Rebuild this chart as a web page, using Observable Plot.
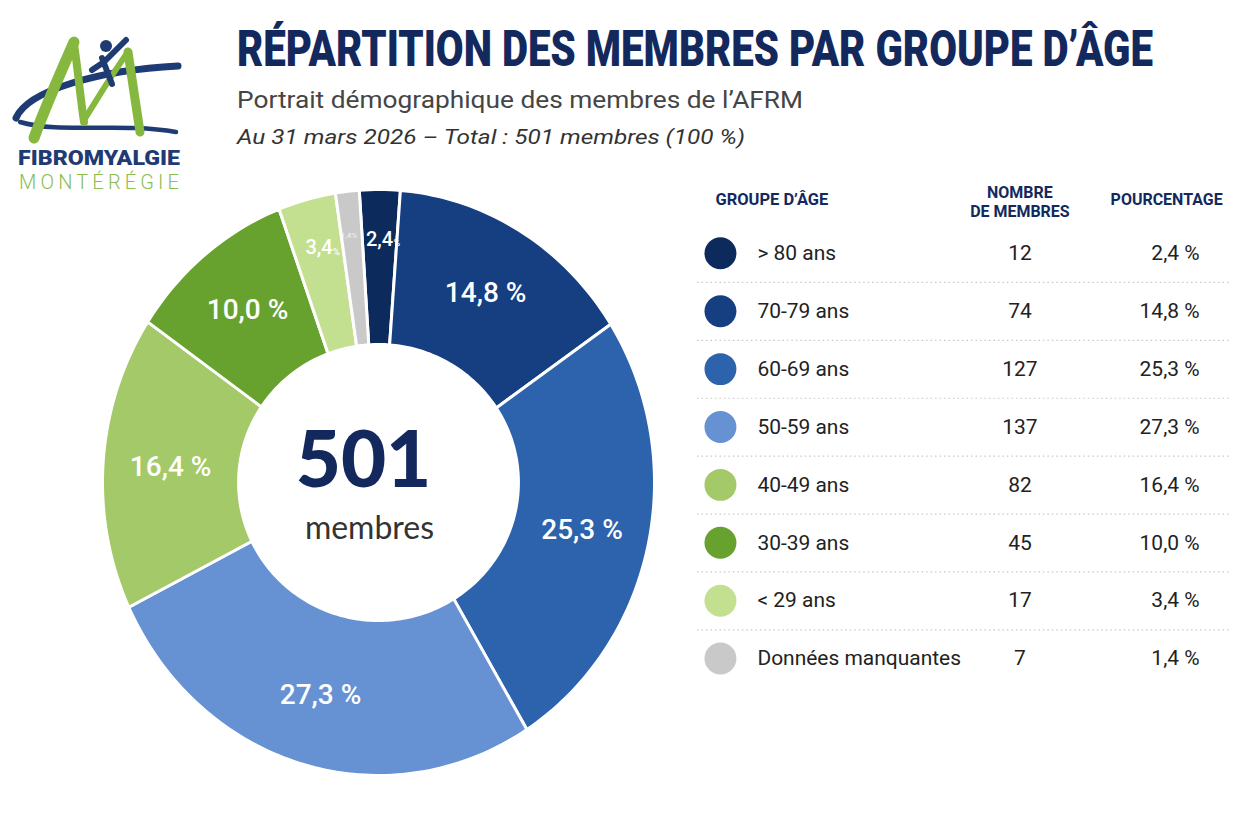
<!DOCTYPE html>
<html>
<head>
<meta charset="utf-8">
<script src="https://cdn.jsdelivr.net/npm/d3@7"></script>
<script src="https://cdn.jsdelivr.net/npm/@observablehq/plot@0.6"></script>
<style>
  html, body { margin: 0; padding: 0; background: #ffffff; }
  body { width: 1249px; height: 824px; position: relative; overflow: hidden; font-family: Roboto, "Noto Sans", sans-serif; }
  #logo, #header, #donut, #table { position: absolute; }
  #logo { left: 0; top: 0; }
  #header { left: 0; top: 0; }
  #donut { left: 78px; top: 167px; }
  #table { left: 690px; top: 150px; }
</style>
</head>
<body>
<svg id="logo" width="230" height="200" viewBox="0 0 230 200">
  <path d="M16 118 C 28 90, 100 70, 178 66" fill="none" stroke="#1f3b73" stroke-width="7" stroke-linecap="round"/>
  <path d="M20 122 C 60 134, 120 122, 176 132" fill="none" stroke="#1f3b73" stroke-width="4.5" stroke-linecap="round"/>
  <path d="M34 138 C 48 100, 62 70, 74 42" fill="none" stroke="#86b83f" stroke-width="11" stroke-linecap="round"/>
  <path d="M74 44 C 78 70, 80 95, 84 122" fill="none" stroke="#86b83f" stroke-width="8" stroke-linecap="round"/>
  <path d="M84 120 C 98 98, 112 74, 128 52" fill="none" stroke="#86b83f" stroke-width="6" stroke-linecap="round"/>
  <path d="M128 52 C 132 80, 136 105, 140 132" fill="none" stroke="#86b83f" stroke-width="9" stroke-linecap="round"/>
  <circle cx="106" cy="46" r="6" fill="#1f3b73"/>
  <path d="M102 58 L 112 84 M 104 62 L 126 40 M 104 62 L 92 70" fill="none" stroke="#1f3b73" stroke-width="6" stroke-linecap="round"/>
  <text x="18" y="165" font-family="Roboto" font-weight="900" font-size="21" fill="#1f3b73" textLength="162" lengthAdjust="spacingAndGlyphs">FIBROMYALGIE</text>
  <text x="19" y="189" font-family="Roboto" font-weight="300" font-size="20" fill="#8bbd4f" textLength="160" lengthAdjust="spacing">MONTÉRÉGIE</text>
</svg>
<svg id="header" width="1249" height="160">
  <text transform="translate(237,66) scale(0.8,1)" x="0" y="0" font-family="Roboto" font-weight="900" font-size="50" fill="#13295e" textLength="1145" lengthAdjust="spacingAndGlyphs">RÉPARTITION DES MEMBRES PAR GROUPE D’ÂGE</text>
  <text x="237" y="108" font-family="Roboto" font-weight="400" font-size="24" fill="#454545" textLength="566" lengthAdjust="spacingAndGlyphs">Portrait démographique des membres de l’AFRM</text>
  <text x="237" y="144" font-family="Roboto" font-style="italic" font-weight="400" font-size="21" fill="#333333" textLength="508" lengthAdjust="spacingAndGlyphs">Au 31 mars 2026 – Total : 501 membres (100 %)</text>
</svg>
<div id="donut"></div>
<div id="table"></div>
<script>
// ---- data ----
const groups = ["> 80 ans", "70-79 ans", "60-69 ans", "50-59 ans", "40-49 ans", "30-39 ans", "< 29 ans", "Données manquantes"];
const counts = [12, 74, 127, 137, 82, 45, 17, 7];
const percents = [2.4, 14.8, 25.3, 27.3, 16.4, 10.0, 3.4, 1.4];
const percentLabels = ["2,4 %", "14,8 %", "25,3 %", "27,3 %", "16,4 %", "10,0 %", "3,4 %", "1,4 %"];
const colors = ["#0c2a5b", "#163f82", "#2d62ad", "#6692d3", "#a4c969", "#68a22e", "#c3e091", "#c9c9c9"];
const headers = ["GROUPE D’ÂGE", "NOMBRE\nDE MEMBRES", "POURCENTAGE"];
const centerValue = "501";
const centerLabel = "membres";

// ---- donut geometry (built from the values) ----
const startAngle = -4 * Math.PI / 180;
const innerX = 0.507, innerY = 0.471;   // inner radius relative to outer (per axis)
const total = d3.sum(percents);
const slices = [];
let acc = startAngle;
groups.forEach((g, i) => {
  const a0 = acc, a1 = acc + percents[i] / total * 2 * Math.PI;
  acc = a1;
  slices.push({group: g, a0, a1, i});
});
const pts = [];
for (const s of slices) {
  const n = Math.max(8, Math.ceil((s.a1 - s.a0) / 0.02));
  for (let k = 0; k <= n; k++) {
    const a = s.a0 + (s.a1 - s.a0) * k / n;
    pts.push({group: s.group, x: Math.sin(a), y: Math.cos(a)});
  }
  for (let k = n; k >= 0; k--) {
    const a = s.a0 + (s.a1 - s.a0) * k / n;
    pts.push({group: s.group, x: innerX * Math.sin(a), y: innerY * Math.cos(a)});
  }
}
const labels = slices.map(s => {
  const m = (s.a0 + s.a1) / 2;
  const small = percents[s.i] < 5;
  const tiny = percents[s.i] < 2;
  const r = tiny ? 0.85 : small ? 0.83 : 0.755;
  const txt = percentLabels[s.i];
  return {
    group: s.group, x: r * Math.sin(m), y: r * Math.cos(m),
    small, tiny,
    main: small ? txt.replace(" %", "") : txt
  };
});
const bigLabels = labels.filter(d => !d.small);
const smallLabels = labels.filter(d => d.small && !d.tiny);
const tinyLabels = labels.filter(d => d.tiny);

const donut = Plot.plot({
  width: 600, height: 630,
  marginLeft: 24, marginRight: 24, marginTop: 22, marginBottom: 22,
  x: {domain: [-1, 1], axis: null},
  y: {domain: [-1, 1], axis: null},
  color: {domain: groups, range: colors},
  style: {fontFamily: "Roboto", background: "transparent"},
  marks: [
    Plot.line(pts, {x: "x", y: "y", z: "group", fill: "group", stroke: "white", strokeWidth: 3, strokeLinejoin: "round", curve: "linear-closed"}),
    Plot.text(bigLabels, {x: "x", y: "y", text: "main", fill: "white", fontSize: 28, fontWeight: 500}),
    Plot.text(smallLabels, {x: "x", y: "y", text: "main", fill: "white", fontSize: 20, fontWeight: 500, textAnchor: "middle", dx: 0}),
    Plot.text(smallLabels, {x: "x", y: "y", text: () => "%", fill: "white", fontSize: 9, fontWeight: 500, textAnchor: "start", dx: 14, dy: 4}),
    Plot.text(tinyLabels, {x: "x", y: "y", text: d => d.main + "%", fill: "#f2f2f2", fontSize: 8, fontWeight: 400, dx: -3}),
    Plot.text([centerValue], {frameAnchor: "middle", text: d => d, dx: -15, dy: -20, fontFamily: "Lato", fontWeight: 900, fontSize: 78, fill: "#13295e"}),
    Plot.text([centerLabel], {frameAnchor: "middle", text: d => d, dx: -9, dy: 46, fontFamily: "Lato", fontWeight: 400, fontSize: 32, fill: "#333333"})
  ]
});
document.getElementById("donut").appendChild(donut);

// ---- table ----
const rows = groups.map((g, i) => ({group: g, count: counts[i], pct: percentLabels[i]}));
const table = Plot.plot({
  width: 560, height: 545,
  marginLeft: 0, marginRight: 0, marginTop: 72, marginBottom: 6,
  y: {type: "band", domain: groups, padding: 0, axis: null},
  color: {domain: groups, range: colors},
  style: {fontFamily: "Roboto", background: "transparent"},
  marks: [
    Plot.ruleY(groups.slice(0, -1), {y: d => d, dy: 29.2, stroke: "#c8c8c8", strokeWidth: 1.2, strokeDasharray: "1.5,3", insetLeft: 7, insetRight: 18}),
    Plot.dot(rows, {y: "group", frameAnchor: "left", dx: 30, r: 16, fill: "group", stroke: "none"}),
    Plot.text(rows, {y: "group", text: "group", frameAnchor: "left", dx: 67, textAnchor: "start", fontSize: 21, fill: "#222222"}),
    Plot.text(rows, {y: "group", text: d => String(d.count), frameAnchor: "left", dx: 330, textAnchor: "middle", fontSize: 21, fill: "#222222"}),
    Plot.text(rows, {y: "group", text: "pct", frameAnchor: "left", dx: 510, textAnchor: "end", fontSize: 21, fill: "#222222"}),
    Plot.text([headers[0]], {frameAnchor: "top-left", text: d => d, dx: 25, dy: -29, textAnchor: "start", fontSize: 16.5, fontWeight: 700, fill: "#13295e"}),
    Plot.text([headers[1]], {frameAnchor: "top-left", text: d => d, dx: 330, dy: -38.5, textAnchor: "middle", lineHeight: 1.2, fontSize: 16, fontWeight: 700, fill: "#13295e"}),
    Plot.text([headers[2]], {frameAnchor: "top-left", text: d => d, dx: 477, dy: -29, textAnchor: "middle", fontSize: 16, fontWeight: 700, fill: "#13295e"})
  ]
});
document.getElementById("table").appendChild(table);
</script>
</body>
</html>
